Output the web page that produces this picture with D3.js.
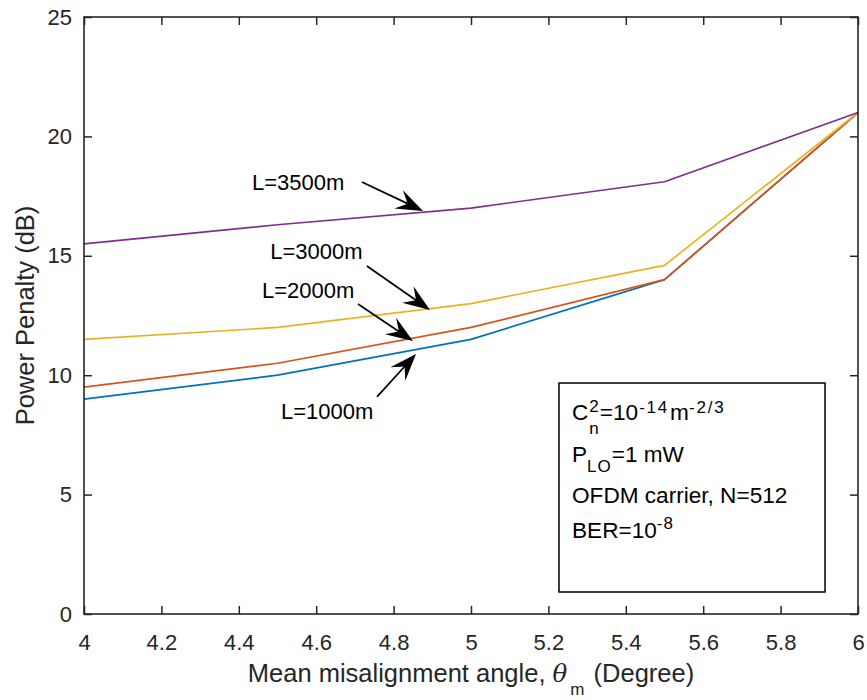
<!DOCTYPE html>
<html>
<head>
<meta charset="utf-8">
<script src="https://cdn.jsdelivr.net/npm/d3@7"></script>
<style>
  html, body { margin: 0; padding: 0; background: #fff; }
  svg { display: block; font-family: Arial, "Liberation Sans", Helvetica, sans-serif; }
  text { white-space: pre; }
</style>
</head>
<body>
<svg id="chart" width="867" height="700"></svg>
<script>
// Mean misalignment angle (degrees) sampled for every curve
const angles = [4, 4.5, 5, 5.5, 6];

// Power penalty (dB) per link length
const penalty1000 = [9.0, 10.0, 11.5, 14.0, 21.0];
const penalty2000 = [9.5, 10.5, 12.0, 14.0, 21.0];
const penalty3000 = [11.5, 12.0, 13.0, 14.6, 21.0];
const penalty3500 = [15.5, 16.3, 17.0, 18.1, 21.0];

const seriesNames = ["L=1000m", "L=2000m", "L=3000m", "L=3500m"];
const seriesColors = ["#0072BD", "#D95319", "#EDB120", "#7E2F8E"];

const xTicks = [4, 4.2, 4.4, 4.6, 4.8, 5, 5.2, 5.4, 5.6, 5.8, 6];
const yTicks = [0, 5, 10, 15, 20, 25];

// Arrow annotations, given in data units: label anchor, arrow tail, arrow tip
const annotations = [
  { text: "L=3500m", label: [4.434, 17.76], tail: [4.718, 18.09], tip: [4.876, 16.88] },
  { text: "L=3000m", label: [4.481, 14.87], tail: [4.731, 14.57], tip: [4.894, 12.73] },
  { text: "L=2000m", label: [4.460, 13.23], tail: [4.708, 12.98], tip: [4.850, 11.43] },
  { text: "L=1000m", label: [4.509, 8.17],  tail: [4.757, 9.09],  tip: [4.858, 10.89] }
];

const series = [penalty1000, penalty2000, penalty3000, penalty3500].map((vals, i) => ({
  name: seriesNames[i],
  color: seriesColors[i],
  points: angles.map((a, j) => ({ x: a, y: vals[j] }))
}));

const svg = d3.select("#chart");
const margin = { left: 84, right: 9, top: 17, bottom: 86 };
const W = 867, H = 700;
const x0 = margin.left, x1 = W - margin.right;
const y0 = H - margin.bottom, y1 = margin.top;

const x = d3.scaleLinear().domain([4, 6]).range([x0, x1]);
const y = d3.scaleLinear().domain([0, 25]).range([y0, y1]);

const axisColor = "#262626";
const tickFont = 22;
const labelFont = 25.5;
const noteFont = 22;

// Data lines, drawn in series order so longer links sit on top
const line = d3.line().x(d => x(d.x)).y(d => y(d.y));
svg.append("g").selectAll("path")
  .data(series)
  .join("path")
  .attr("d", d => line(d.points))
  .attr("fill", "none")
  .attr("stroke", d => d.color)
  .attr("stroke-width", 1.7)
  .attr("stroke-linejoin", "round");

// Axes with inward ticks on all four sides
function styleAxis(g) {
  g.select(".domain").remove();
  g.selectAll(".tick line").attr("stroke", axisColor).attr("stroke-width", 1.5);
  g.selectAll(".tick text").attr("fill", axisColor).attr("font-size", tickFont)
    .attr("font-family", "Arial, 'Liberation Sans', Helvetica, sans-serif");
}
const tickLen = 8;
svg.append("g").attr("transform", `translate(0,${y0})`)
  .call(d3.axisBottom(x).tickValues(xTicks).tickFormat(d3.format("~g")).tickSizeInner(-tickLen).tickSizeOuter(0).tickPadding(20))
  .call(styleAxis);
svg.append("g").attr("transform", `translate(0,${y1})`)
  .call(d3.axisTop(x).tickValues(xTicks).tickFormat("").tickSizeInner(-tickLen).tickSizeOuter(0))
  .call(styleAxis);
svg.append("g").attr("transform", `translate(${x0},0)`)
  .call(d3.axisLeft(y).tickValues(yTicks).tickFormat(d3.format("~g")).tickSizeInner(-tickLen).tickSizeOuter(0).tickPadding(12))
  .call(styleAxis);
svg.append("g").attr("transform", `translate(${x1},0)`)
  .call(d3.axisRight(y).tickValues(yTicks).tickFormat("").tickSizeInner(-tickLen).tickSizeOuter(0))
  .call(styleAxis);

// Plot box
svg.append("rect")
  .attr("x", x0).attr("y", y1)
  .attr("width", x1 - x0).attr("height", y0 - y1)
  .attr("fill", "none").attr("stroke", axisColor).attr("stroke-width", 1.6);

// Rich text helper: appends runs left to right; a run with "stack" shares x with the previous run
function richText(g, xStart, baseline, runs) {
  let cx = xStart, prevX = xStart;
  runs.forEach(r => {
    const startX = r.stack ? prevX : cx + (r.pre || 0);
    const t = g.append("text")
      .attr("x", startX)
      .attr("y", baseline + (r.dy || 0))
      .attr("font-size", r.size)
      .attr("fill", r.color || "#000")
      .attr("font-style", r.italic ? "italic" : null)
      .attr("font-family", r.family || null)
      .attr("letter-spacing", r.ls || null)
      .text(r.t);
    const w = t.node().getComputedTextLength();
    if (r.stack) {
      cx = Math.max(cx, startX + w);
    } else {
      prevX = startX;
      cx = startX + w;
    }
  });
  return cx - xStart;
}

// X axis label with italic theta and subscript m
{
  const g = svg.append("g");
  const baseline = 682;
  const runs = [
    { t: "Mean misalignment angle, ", size: labelFont, color: axisColor },
    { t: "θ", size: labelFont - 1, italic: true, color: axisColor, family: "'DejaVu Serif', 'Liberation Serif', serif" },
    { t: "m", size: 17, dy: 13, color: axisColor, pre: 3 },
    { t: " (Degree)", size: labelFont, color: axisColor, pre: 2 }
  ];
  const width = richText(g, 0, baseline, runs);
  g.attr("transform", `translate(${(x0 + x1) / 2 - width / 2},0)`);
}

// Y axis label
svg.append("text")
  .attr("transform", `translate(34,${(y0 + y1) / 2}) rotate(-90)`)
  .attr("text-anchor", "middle")
  .attr("font-size", labelFont)
  .attr("fill", axisColor)
  .text("Power Penalty (dB)");

// Annotation arrows
const headLen = 27, headHalf = 10, notch = 17;
annotations.forEach(a => {
  const tx = x(a.tail[0]), ty = y(a.tail[1]);
  const px = x(a.tip[0]), py = y(a.tip[1]);
  const dx = px - tx, dy = py - ty, len = Math.hypot(dx, dy);
  const ux = dx / len, uy = dy / len, nx = -uy, ny = ux;
  svg.append("line")
    .attr("x1", tx).attr("y1", ty)
    .attr("x2", px - ux * notch).attr("y2", py - uy * notch)
    .attr("stroke", "#000").attr("stroke-width", 1.7);
  const head = [
    [px, py],
    [px - ux * headLen + nx * headHalf, py - uy * headLen + ny * headHalf],
    [px - ux * notch, py - uy * notch],
    [px - ux * headLen - nx * headHalf, py - uy * headLen - ny * headHalf]
  ];
  svg.append("path")
    .attr("d", "M" + head.map(p => p.join(",")).join("L") + "Z")
    .attr("fill", "#000");
  svg.append("text")
    .attr("x", x(a.label[0])).attr("y", y(a.label[1]))
    .attr("font-size", noteFont)
    .attr("fill", "#000")
    .text(a.text);
});

// Parameter box
{
  const bx = 559, by = 383, bw = 266, bh = 209;
  svg.append("rect")
    .attr("x", bx).attr("y", by).attr("width", bw).attr("height", bh)
    .attr("fill", "#fff").attr("stroke", "#000").attr("stroke-width", 1.5);
  const g = svg.append("g");
  const lx = 572, big = 22.6, small = 17;
  richText(g, lx, 420, [
    { t: "C", size: big },
    { t: "2", size: small, dy: -8, pre: 1 },
    { t: "n", size: small, dy: 14, stack: true },
    { t: "=10", size: big, pre: 1 },
    { t: "-14", size: small, dy: -7, pre: 1, ls: 1.8 },
    { t: "m", size: big, pre: 1 },
    { t: "-2/3", size: small, dy: -7, ls: 1.8 }
  ]);
  richText(g, lx, 462, [
    { t: "P", size: big },
    { t: "LO", size: small, dy: 10, ls: 1 },
    { t: "=1 mW", size: big }
  ]);
  richText(g, lx, 503, [{ t: "OFDM carrier, N=512", size: big }]);
  richText(g, lx, 538, [
    { t: "BER=10", size: big },
    { t: "-8", size: small, dy: -9, ls: 1 }
  ]);
}
</script>
</body>
</html>
